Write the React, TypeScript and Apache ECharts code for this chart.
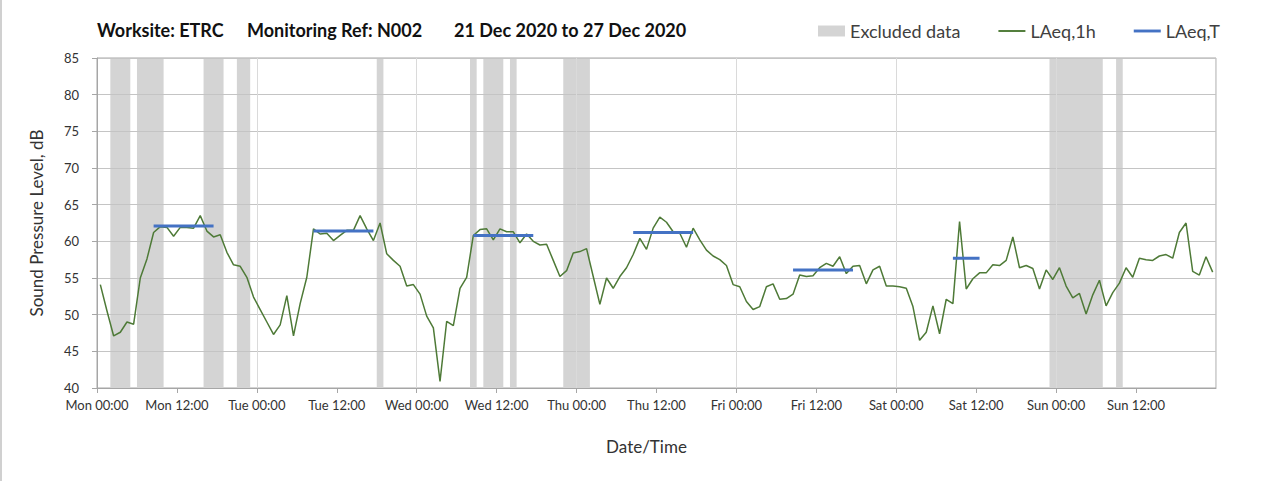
import React, { useEffect, useRef } from "react";
import * as echarts from "echarts";

// ---- data ----
const DAY_NAMES = ["Mon", "Tue", "Wed", "Thu", "Fri", "Sat", "Sun"];
const TIME_LABELS = ["00:00", "12:00"];
const HOURS_IN_WEEK = 168;
const Y_MIN = 40;
const Y_MAX = 85;
const Y_STEP = 5;

// LAeq,1h – one value per hour, Mon 21 Dec 00:00 onwards
const HOURLY_LAEQ = [
  54.1, 50.5, 47.1, 47.6, 49.0, 48.7, 55.0, 57.6, 61.2, 62.0, 61.9, 60.7,
  61.9, 61.9, 61.8, 63.5, 61.4, 60.6, 60.9, 58.5, 56.8, 56.6, 55.1, 52.4,
  50.7, 49.0, 47.3, 48.6, 52.6, 47.1, 51.5, 55.1, 61.7, 61.0, 61.1, 60.1,
  60.8, 61.5, 61.5, 63.5, 61.7, 60.1, 62.5, 58.3, 57.4, 56.6, 53.9, 54.1,
  52.8, 49.8, 48.2, 40.9, 49.1, 48.5, 53.6, 55.1, 60.8, 61.6, 61.7, 60.2,
  61.7, 61.3, 61.3, 59.8, 61.0, 60.0, 59.5, 59.6, 57.4, 55.2, 56.0, 58.4,
  58.6, 59.0, 55.2, 51.4, 55.0, 53.6, 55.2, 56.4, 58.2, 60.4, 58.9, 61.8,
  63.3, 62.6, 61.3, 61.1, 59.2, 61.8, 60.2, 58.8, 58.0, 57.5, 56.7, 54.1,
  53.8, 51.8, 50.7, 51.1, 53.8, 54.2, 52.1, 52.2, 52.8, 55.4, 55.2, 55.3,
  56.4, 57.0, 56.6, 57.9, 55.6, 56.6, 56.7, 54.2, 56.1, 56.6, 53.9, 53.9,
  53.8, 53.6, 51.1, 46.5, 47.6, 51.2, 47.4, 52.1, 51.5, 62.7, 53.5, 54.9,
  55.7, 55.7, 56.8, 56.7, 57.4, 60.6, 56.4, 56.7, 56.3, 53.5, 56.1, 54.8,
  56.4, 53.9, 52.3, 52.9, 50.1, 52.7, 54.7, 51.2, 53.0, 54.3, 56.4, 55.1,
  57.7, 57.5, 57.4, 58.0, 58.2, 57.7, 61.2, 62.5, 55.9, 55.4, 57.9, 55.8,
];

// LAeq,T – assessment periods (hour of week, start inclusive / end exclusive)
const PERIOD_START_HOUR = [8, 32, 56, 80, 104, 128];
const PERIOD_END_HOUR = [18, 42, 66, 90, 114, 133];
const PERIOD_LAEQ = [62.1, 61.4, 60.8, 61.2, 56.1, 57.7];

// Excluded data windows (hour of week)
const EXCLUDED_START = [2, 6, 16, 21, 42, 56, 58, 62, 70, 143, 153];
const EXCLUDED_END = [5, 10, 19, 23, 43, 57, 61, 63, 74, 151, 154];

const TITLE_PARTS = ["Worksite: ETRC", "Monitoring Ref: N002", "21 Dec 2020 to 27 Dec 2020"];

// ---- styles ----
const FONT = "Lato, 'Open Sans', sans-serif";
const GREEN = "#4e7a37";
const BLUE = "#4472c4";
const GREY_BAND = "#d4d4d4";

export default function App() {
  const ref = useRef<HTMLDivElement>(null);

  useEffect(() => {
    document.body.style.margin = "0";
    const chart = echarts.init(ref.current!, undefined, { renderer: "svg" });

    const hourlyData = HOURLY_LAEQ.map((v, i) => [i + 0.5, v]);
    const periodData: any[] = [];
    PERIOD_START_HOUR.forEach((s, i) => {
      for (let h = s; h < PERIOD_END_HOUR[i]; h++) periodData.push([h + 0.5, PERIOD_LAEQ[i]]);
      periodData.push([PERIOD_END_HOUR[i], null]);
    });
    const excludedData = EXCLUDED_START.map((s, i) => [s, EXCLUDED_END[i]]);

    chart.setOption({
      animation: false,
      textStyle: { fontFamily: FONT },
      grid: {
        left: 97,
        right: 61,
        top: 58,
        bottom: 93,
        show: true,
        borderColor: "#a6a6a6",
        borderWidth: 1,
        backgroundColor: "transparent",
      },
      graphic: [
        {
          type: "line",
          shape: { x1: 1, y1: 0, x2: 1, y2: 481 },
          style: { stroke: "#d0d0d0", lineWidth: 2 },
        },
        ...TITLE_PARTS.map((t, i) => ({
          type: "text",
          x: [97, 247, 454][i],
          y: 30,
          style: {
            text: t,
            fontSize: 18,
            fontWeight: "bold",
            fontFamily: FONT,
            fill: "#111",
            verticalAlign: "middle",
          },
        })),
      ],
      legend: {
        left: 818,
        top: 22,
        padding: 0,
        itemWidth: 27,
        itemHeight: 11,
        itemGap: 38,
        textStyle: { fontSize: 18, color: "#404040", fontFamily: FONT },
        data: [
          { name: "Excluded data", icon: "rect" },
          { name: "LAeq,1h", icon: "path://M0,0H28V2H0Z" },
          { name: "LAeq,T", icon: "path://M0,0H28V3H0Z" },
        ],
      },
      xAxis: [
        {
          type: "value",
          min: 0,
          max: HOURS_IN_WEEK,
          interval: 12,
          z: 1,
          axisLine: { show: true, lineStyle: { color: "#a6a6a6" } },
          axisTick: { show: true, length: 5, lineStyle: { color: "#a6a6a6" } },
          axisLabel: {
            fontSize: 13,
            color: "#333",
            margin: 10,
            showMaxLabel: false,
            formatter: (v: number) =>
              v >= HOURS_IN_WEEK ? "" : `${DAY_NAMES[Math.floor(v / 24)]} ${TIME_LABELS[(v % 24) / 12]}`,
          },
          splitLine: { show: false },
          name: "Date/Time",
          nameLocation: "middle",
          nameGap: 50,
          nameTextStyle: { fontSize: 17, color: "#333", padding: [0, 20, 0, 0] },
        },
        {
          type: "value",
          min: 0,
          max: HOURS_IN_WEEK,
          interval: 24,
          z: 1,
          axisLine: { show: false },
          axisTick: { show: false },
          axisLabel: { show: false },
          splitLine: { show: true, lineStyle: { color: "#dadada", width: 1 } },
        },
      ],
      yAxis: {
        type: "value",
        min: Y_MIN,
        max: Y_MAX,
        interval: Y_STEP,
        z: 1,
        axisLine: { show: true, lineStyle: { color: "#a6a6a6" } },
        axisTick: { show: true, length: 5, lineStyle: { color: "#a6a6a6" } },
        axisLabel: { fontSize: 13, color: "#333", margin: 18 },
        splitLine: { show: true, lineStyle: { color: "#c4c4c4", width: 1 } },
        name: "Sound Pressure Level, dB",
        nameLocation: "middle",
        nameRotate: 90,
        nameGap: 52,
        nameTextStyle: { fontSize: 17, color: "#333" },
      },
      series: [
        {
          name: "Excluded data",
          type: "custom",
          xAxisIndex: 0,
          z: 0,
          itemStyle: { color: GREY_BAND },
          data: excludedData,
          encode: { x: [0, 1] },
          renderItem: (_params: any, api: any) => {
            const p0 = api.coord([api.value(0), Y_MAX]);
            const p1 = api.coord([api.value(1), Y_MIN]);
            return {
              type: "rect",
              shape: { x: p0[0], y: p0[1], width: p1[0] - p0[0], height: p1[1] - p0[1] },
              style: { fill: GREY_BAND },
            };
          },
        },
        {
          name: "LAeq,1h",
          type: "line",
          xAxisIndex: 0,
          z: 3,
          symbol: "none",
          lineStyle: { color: GREEN, width: 1.5 },
          itemStyle: { color: GREEN },
          data: hourlyData,
        },
        {
          name: "LAeq,T",
          type: "line",
          xAxisIndex: 0,
          z: 4,
          symbol: "none",
          connectNulls: false,
          lineStyle: { color: BLUE, width: 3 },
          itemStyle: { color: BLUE },
          data: periodData,
        },
      ],
    });

    return () => chart.dispose();
  }, []);

  return <div ref={ref} style={{ width: 1277, height: 481 }} />;
}
